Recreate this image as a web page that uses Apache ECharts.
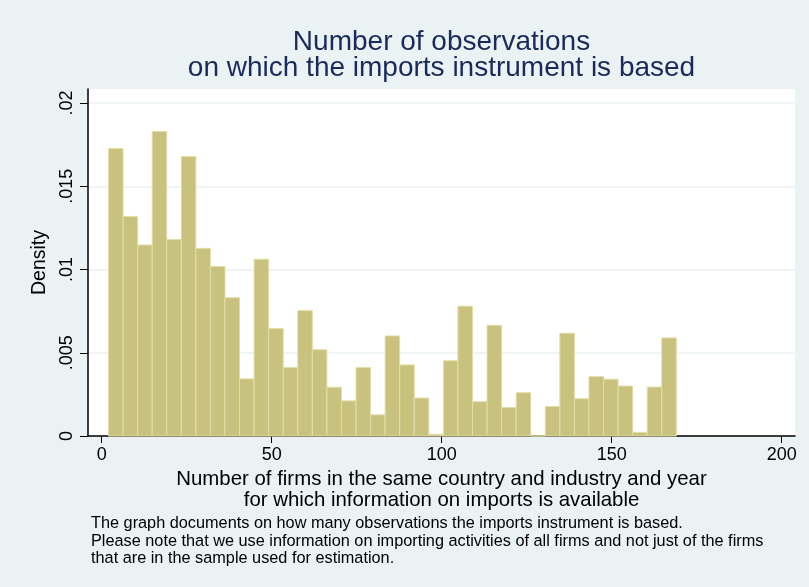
<!DOCTYPE html>
<html>
<head>
<meta charset="utf-8">
<script src="https://cdn.jsdelivr.net/npm/echarts@6/dist/echarts.min.js"></script>
<style>
  html, body { margin: 0; padding: 0; background: #eaf2f3; }
  #chart { width: 809px; height: 587px; }
</style>
</head>
<body>
<div id="chart"></div>
<script>
  // histogram: bins start at 2, 39 bins up to 169
  var binStart = 2;
  var binEnd = 169;
  var density = [
    0.01727, 0.01319, 0.01147, 0.01829, 0.01181, 0.01679, 0.01127, 0.01018, 0.00831, 0.00343,
    0.01062, 0.00645, 0.00412, 0.00753, 0.00518, 0.00293, 0.00211, 0.00412, 0.00127, 0.00601,
    0.00427, 0.00228, 0.00010, 0.00452, 0.00780, 0.00206, 0.00665, 0.00171, 0.00260, 0.00000,
    0.00177, 0.00617, 0.00224, 0.00357, 0.00341, 0.00300, 0.00022, 0.00294, 0.00589
  ];
  var xTicks = [0, 50, 100, 150, 200];
  var yTickLabels = {0: '0', 0.005: '.005', 0.01: '.01', 0.015: '.015', 0.02: '.02'};

  var titleText = 'Number of observations\non which the imports instrument is based';
  var xTitle = 'Number of firms in the same country and industry and year\nfor which information on imports is available';
  var yTitle = 'Density';
  var noteText = 'The graph documents on how many observations the imports instrument is based.\n' +
    'Please note that we use information on importing activities of all firms and not just of the firms\n' +
    'that are in the sample used for estimation.';

  var binWidth = (binEnd - binStart) / density.length;
  var bins = density.map(function (d, i) {
    return [binStart + i * binWidth, binStart + (i + 1) * binWidth, d];
  });

  var chart = echarts.init(document.getElementById('chart'));
  chart.setOption({
    backgroundColor: '#eaf2f3',
    textStyle: { fontFamily: 'Liberation Sans, Arial, sans-serif' },
    grid: {
      left: 88, right: 14, top: 89, bottom: 151,
      show: true, backgroundColor: '#ffffff', borderWidth: 0
    },
    xAxis: {
      type: 'value',
      min: -4.03, max: 203.9,
      name: xTitle,
      nameLocation: 'middle',
      nameGap: 30,
      nameTextStyle: { fontSize: 20.4, color: '#000', lineHeight: 21 },
      axisLine: { show: true, onZero: false, lineStyle: { color: '#000', width: 1.5 } },
      axisTick: { show: true, customValues: xTicks, length: 7, lineStyle: { color: '#000' } },
      axisLabel: { customValues: xTicks, fontSize: 18, color: '#000', margin: 10 },
      splitLine: { show: false }
    },
    yAxis: {
      type: 'value',
      min: 0, max: 0.020843, interval: 0.005,
      name: yTitle,
      nameLocation: 'middle',
      nameGap: 34,
      nameTextStyle: { fontSize: 19.5, color: '#000' },
      axisLine: { show: true, onZero: false, lineStyle: { color: '#000', width: 1.5 } },
      axisTick: { show: true, length: 8, lineStyle: { color: '#000' } },
      axisLabel: {
        rotate: 90, fontSize: 18, color: '#000', margin: 12, showMaxLabel: false,
        formatter: function (v) {
          var k = Math.round(v * 1000) / 1000;
          return yTickLabels[k] !== undefined ? yTickLabels[k] : '';
        }
      },
      splitLine: { show: true, showMaxLine: false, lineStyle: { color: '#eaf2f3', width: 1.5 } }
    },
    series: [{
      type: 'custom',
      data: bins,
      encode: { x: [0, 1], y: 2 },
      renderItem: function (params, api) {
        var p0 = api.coord([api.value(0), 0]);
        var p1 = api.coord([api.value(1), api.value(2)]);
        return {
          type: 'rect',
          shape: { x: p0[0], y: p1[1], width: p1[0] - p0[0], height: p0[1] - p1[1] },
          style: { fill: '#c9c17e', stroke: '#e2dea6', lineWidth: 1 }
        };
      }
    }],
    graphic: [
      {
        type: 'text', x: 441.5, y: 29,
        style: {
          text: titleText, textAlign: 'center', fill: '#1a2a5a',
          font: '28px "Liberation Sans", Arial, sans-serif', lineHeight: 26
        }
      },
      {
        type: 'text', x: 91, y: 515,
        style: {
          text: noteText, textAlign: 'left', fill: '#000',
          font: '16.3px "Liberation Sans", Arial, sans-serif', lineHeight: 17.5
        }
      }
    ]
  });
</script>
</body>
</html>
